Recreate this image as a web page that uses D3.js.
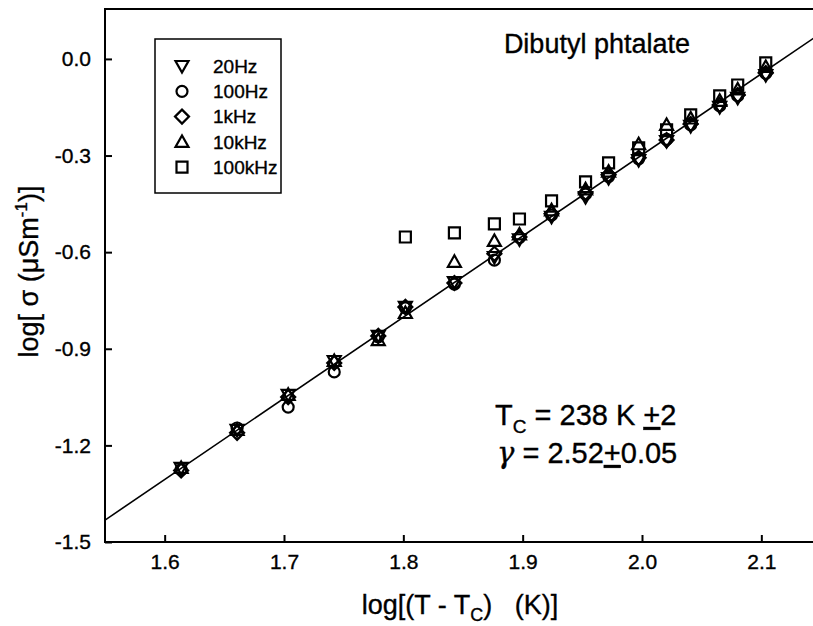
<!DOCTYPE html>
<html>
<head>
<meta charset="utf-8">
<script src="https://cdn.jsdelivr.net/npm/d3@7"></script>
<style>
  body { margin: 0; background: #fff; }
  svg { display: block; font-family: "Liberation Sans", Arial, sans-serif; }
  text { fill: #000; stroke: #000; stroke-width: 0.35px; }
  .tick text { font-size: 21px; }
</style>
</head>
<body>
<div id="chart"></div>
<script>
// temperature axis: log(T - Tc)
const logDT = [1.6138, 1.6607, 1.7035, 1.7421, 1.779, 1.8017, 1.8428, 1.8763, 1.8973,
  1.9242, 1.9527, 1.972, 1.9972, 2.0206, 2.0408, 2.0651, 2.0802, 2.1037]

// log sigma for each frequency
const f20Hz = [-1.270, -1.152, -1.043, -0.938, -0.860, -0.770, -0.693, -0.615, -0.560,
  -0.490, -0.429, -0.370, -0.314, -0.255, -0.208, -0.149, -0.121, -0.050]
const f100Hz = [-1.275, -1.146, -1.081, -0.972, -0.863, -0.773, -0.699, -0.625, -0.555,
  -0.485, -0.420, -0.365, -0.310, -0.250, -0.205, -0.146, -0.115, -0.045]
const f1kHz = [-1.278, -1.161, -1.050, -0.944, -0.860, -0.770, -0.696, -0.605, -0.553,
  -0.481, -0.416, -0.360, -0.307, -0.252, -0.202, -0.143, -0.112, -0.044]
const f10kHz = [-1.270, -1.152, -1.043, -0.938, -0.873, -0.789, -0.630, -0.565, -0.545,
  -0.470, -0.405, -0.350, -0.265, -0.205, -0.185, -0.130, -0.095, -0.025]
// 100kHz only measured from log(T-Tc) = 1.80 up
const f100kHz = [null, null, null, null, null, -0.553, -0.540, -0.512, -0.497,
  -0.441, -0.382, -0.323, -0.276, -0.220, -0.174, -0.115, -0.081, -0.012]

const seriesNames = ['20Hz', '100Hz', '1kHz', '10kHz', '100kHz']
const seriesShapes = ['triDown', 'circle', 'diamond', 'triUp', 'square']
const seriesValues = [f20Hz, f100Hz, f1kHz, f10kHz, f100kHz]

// fitted straight line, slope gamma = 2.52
const fitX = [1.55, 2.15]
const fitY = [-1.432, 0.080]

const xTicks = [1.6, 1.7, 1.8, 1.9, 2.0, 2.1]
const yTicks = [-1.5, -1.2, -0.9, -0.6, -0.3, 0.0]

const width = 813, height = 626
const margin = { top: 9, right: -8, bottom: 84, left: 105 }

const x = d3.scaleLinear()
    .domain([1.55, 2.15])
    .range([margin.left, width - margin.right])

const y = d3.scaleLinear()
    .domain([-1.5, 0.155])
    .range([height - margin.bottom, margin.top])

const svg = d3.select('#chart')
    .append('svg')
    .attr('width', width)
    .attr('height', height)

svg.append('defs').append('clipPath').attr('id', 'plot')
    .append('rect')
    .attr('x', x(1.55)).attr('y', y(0.155))
    .attr('width', x(2.15) - x(1.55)).attr('height', y(-1.5) - y(0.155))

// frame
svg.append('rect')
    .attr('x', x(1.55))
    .attr('y', y(0.155))
    .attr('width', x(2.15) - x(1.55))
    .attr('height', y(-1.5) - y(0.155))
    .attr('fill', 'none')
    .attr('stroke', '#000')
    .attr('stroke-width', 2)

svg.append('g')
    .attr('transform', `translate(0,${y(-1.5)})`)
    .call(d3.axisBottom(x).tickValues(xTicks).tickFormat(d => d.toFixed(1))
        .tickSizeInner(-7).tickSizeOuter(0).tickPadding(12))
    .call(g => g.select('.domain').remove())
    .call(g => g.selectAll('.tick line').attr('stroke-width', 2))

svg.append('g')
    .attr('transform', `translate(${x(1.55)},0)`)
    .call(d3.axisLeft(y).tickValues(yTicks).tickFormat(d => d.toFixed(1))
        .tickSizeInner(-7).tickSizeOuter(0).tickPadding(14))
    .call(g => g.select('.domain').remove())
    .call(g => g.selectAll('.tick line').attr('stroke-width', 2))

// fit line
svg.append('line')
    .attr('clip-path', 'url(#plot)')
    .attr('x1', x(fitX[0])).attr('y1', y(fitY[0]))
    .attr('x2', x(fitX[1])).attr('y2', y(fitY[1]))
    .attr('stroke', '#000')
    .attr('stroke-width', 1.6)

const marker = (shape) => {
    switch (shape) {
        case 'triDown': return 'M-6.5,-5 L6.5,-5 L0,6.5 Z'
        case 'triUp': return 'M-6.5,5 L6.5,5 L0,-6.5 Z'
        case 'diamond': return 'M0,-7 L7,0 L0,7 L-7,0 Z'
        case 'square': return 'M-5.5,-5.5 H5.5 V5.5 H-5.5 Z'
        default: return 'M-5.5,0 A5.5,5.5 0 1,0 5.5,0 A5.5,5.5 0 1,0 -5.5,0 Z'
    }
}

seriesValues.forEach((vals, i) => {
    const pts = logDT.map((d, j) => ({ x: d, y: vals[j] })).filter(p => p.y !== null)
    svg.append('g')
        .selectAll('path')
        .data(pts)
        .join('path')
        .attr('transform', d => `translate(${x(d.x)},${y(d.y)})`)
        .attr('d', marker(seriesShapes[i]))
        .attr('fill', 'none')
        .attr('stroke', '#000')
        .attr('stroke-width', 2.2)
})

// legend
const legend = svg.append('g')
legend.append('rect')
    .attr('x', 155).attr('y', 39)
    .attr('width', 126).attr('height', 154)
    .attr('fill', '#fff')
    .attr('stroke', '#000')
    .attr('stroke-width', 1.5)

seriesNames.forEach((name, i) => {
    const row = legend.append('g').attr('transform', `translate(182,${66 + i * 25.3})`)
    row.append('path')
        .attr('d', marker(seriesShapes[i]))
        .attr('fill', 'none')
        .attr('stroke', '#000')
        .attr('stroke-width', 2.2)
    row.append('text')
        .attr('x', 31).attr('dy', '0.36em')
        .attr('font-size', 19)
        .text(name)
})

// title
svg.append('text')
    .attr('x', 690).attr('y', 53)
    .attr('text-anchor', 'end')
    .attr('font-size', 27)
    .text('Dibutyl phtalate')

// annotation
const ann1 = svg.append('text').attr('x', 495).attr('y', 425).attr('font-size', 29)
ann1.append('tspan').text('T')
ann1.append('tspan').attr('font-size', 19).attr('dy', 8).text('C')
ann1.append('tspan').attr('dy', -8).text(' = 238 K ')
ann1.append('tspan').attr('text-decoration', 'underline').text('+')
ann1.append('tspan').text('2')

const ann2 = svg.append('text').attr('x', 497).attr('y', 463).attr('font-size', 29)
ann2.append('tspan').attr('font-family', '"DejaVu Serif", serif').attr('font-style', 'italic').text('γ')
ann2.append('tspan').text(' = 2.52')
ann2.append('tspan').attr('text-decoration', 'underline').text('+')
ann2.append('tspan').text('0.05')

// axis titles
const xt = svg.append('text')
    .attr('x', 460).attr('y', 614)
    .attr('text-anchor', 'middle')
    .attr('font-size', 27)
xt.append('tspan').text('log[(T - T')
xt.append('tspan').attr('font-size', 18).attr('dy', 7).text('C')
xt.append('tspan').attr('dy', -7).text(')\u00a0\u00a0\u00a0(K)]')

const yt = svg.append('text')
    .attr('transform', `translate(38,${y(-0.66)}) rotate(-90)`)
    .attr('text-anchor', 'middle')
    .attr('font-size', 27)
yt.append('tspan').text('log[ σ (μSm')
yt.append('tspan').attr('font-size', 17).attr('dy', -11).text('-1')
yt.append('tspan').attr('dy', 11).text(')]')
</script>
</body>
</html>
